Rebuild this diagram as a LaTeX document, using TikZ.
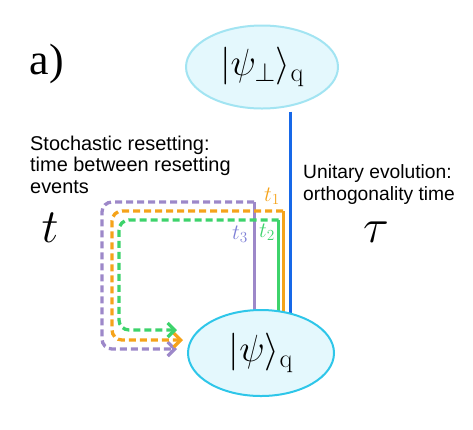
\RequirePackage{fix-cm}
\documentclass[tikz,border=0pt]{standalone}
\usepackage{fontspec}
\newfontfamily\sansf{Liberation Sans}
\newfontfamily\seriff{Liberation Serif}
\usetikzlibrary{shapes.geometric,arrows.meta,backgrounds}
\definecolor{cyanedgeA}{HTML}{A2E4F2}
\definecolor{cyanedgeB}{HTML}{2EC6E9}
\definecolor{cyanfill}{HTML}{E4F8FD}
\definecolor{purp}{HTML}{9D88C9}
\definecolor{purplab}{HTML}{7E80D6}
\definecolor{oran}{HTML}{F5A31A}
\definecolor{gree}{HTML}{3DD36B}
\definecolor{blu}{HTML}{1768E8}
\tikzset{
  statenode/.style={ellipse, fill=cyanfill, line width=2bp, inner sep=0pt,
    font=\fontsize{38}{40}\selectfont},
  solidpath/.style={line width=3bp},
  dashpath/.style={line width=3.3bp, dash pattern=on 7bp off 4bp, rounded corners=10bp,
    -{Straight Barb[length=7bp,width=14bp,line width=3.3bp]}},
  sanstext/.style={align=left, inner sep=0pt, anchor=north west},
  biglab/.style={font=\fontsize{48}{50}\selectfont, inner sep=0pt},
  smalllab/.style={font=\fontsize{22}{24}\selectfont, inner sep=0pt}
}
\begin{document}
\begin{tikzpicture}[x=1bp,y=-1bp]
\useasboundingbox (0,0) rectangle (473,429);
% states
\node[statenode, draw=cyanedgeA, minimum width=152bp, minimum height=83bp] (psiperp) at (262,67) {$|\psi_\perp\rangle_{\mathrm{q}}$};
\node[statenode, draw=cyanedgeB, minimum width=146bp, minimum height=86bp] (psi) at (261,353) {$|\psi\rangle_{\mathrm{q}}$};
% coordinates
\coordinate (bx) at (290,0);
\coordinate (pt) at (254,202);
\coordinate (pl) at (102,349);
\coordinate (ptip) at (177,349);
\coordinate (ot) at (283,211);
\coordinate (ol) at (112,340);
\coordinate (otip) at (183,340);
\coordinate (gt) at (278.5,220);
\coordinate (gl) at (119,330);
\coordinate (gtip) at (177,330);
\begin{scope}[on background layer]
\draw[solidpath, blu] ([yshift=-2bp]psiperp.south -| bx) -- (psi.center -| bx);
\draw[solidpath, oran] (psi.center -| ot) -- (ot);
\draw[solidpath, gree] (psi.center -| gt) -- (gt);
\draw[solidpath, purp] (psi.center -| pt) -- (pt);
\end{scope}
\draw[dashpath, purp] (pt) -- (pt -| pl) -- (pl) -- (ptip);
\draw[dashpath, oran] (ot) -- (ot -| ol) -- (ol) -- (otip);
\draw[dashpath, gree] (gt) -- (gt -| gl) -- (gl) -- (gtip);
% labels
\node[smalllab, text=oran] (l1) at (272,196) {$t_1$};
\node[smalllab, text=gree] (l2) at (267,232) {$t_2$};
\node[smalllab, text=purplab] (l3) at (240,234) {$t_3$};
\node[biglab] (tlab) at (50,228) {$t$};
\node[biglab] (taulab) at (376,232) {$\tau$};
\node[font=\seriff\fontsize{44}{46}\selectfont, inner sep=0pt] (alab) at (47,64) {a)};
\node[sanstext, font=\sansf\fontsize{20}{21.7}\selectfont] (stoch) at (30,135.5) {Stochastic resetting:\\time between resetting\\events};
\node[sanstext, font=\sansf\fontsize{19.3}{22}\selectfont] (unit) at (303,164.2) {Unitary evolution:\\orthogonality time};
\end{tikzpicture}
\end{document}
